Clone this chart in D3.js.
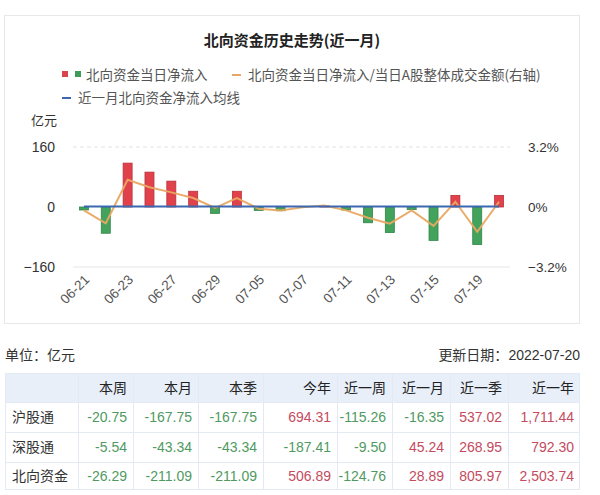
<!DOCTYPE html>
<html><head><meta charset="utf-8">
<script src="https://cdn.jsdelivr.net/npm/d3@7/dist/d3.min.js"></script>
<style>
html,body{margin:0;padding:0;background:#fff;}
svg{display:block;font-family:"Noto Sans CJK SC","Noto Sans",sans-serif;}
.num{font-family:"Liberation Sans","Noto Sans",sans-serif;}
</style></head>
<body>
<svg id="c" width="600" height="495"></svg>
<script>
const dates = ["06-21","06-22","06-23","06-24","06-27","06-28","06-29","06-30","07-05","07-06","07-07","07-08","07-11","07-12","07-13","07-14","07-15","07-18","07-19","07-20"];
const netInflow = [-8,-70,117,93,69,42,-17,42,-9,-10,-1,3,-8,-42,-68,-7,-89,31,-100,31];
const ratioPct = [-0.18,-0.87,1.45,1.05,0.78,0.48,-0.05,0.48,-0.09,-0.18,-0.02,0.08,-0.18,-0.57,-0.89,-0.18,-1.01,0.28,-1.32,0.28];
const monthAvg = 1.44;
const leftTicks = [-160,0,160];
const rightTicks = [-3.2,0,3.2];
const tableCols = ["本周","本月","本季","今年","近一周","近一月","近一季","近一年"];
const tableRows = ["沪股通","深股通","北向资金"];
const shValues = ["-20.75","-167.75","-167.75","694.31","-115.26","-16.35","537.02","1,711.44"];
const szValues = ["-5.54","-43.34","-43.34","-187.41","-9.50","45.24","268.95","792.30"];
const nbValues = ["-26.29","-211.09","-211.09","506.89","-124.76","28.89","805.97","2,503.74"];

const svg = d3.select("#c");
// chart frame
svg.append("rect").attr("x",4.5).attr("y",15.5).attr("width",575).attr("height",308)
  .attr("fill","#fff").attr("stroke","#e8e8e8");

svg.append("text").attr("x",292).attr("y",46).attr("text-anchor","middle")
  .attr("font-size",15).attr("font-weight","bold").attr("fill","#222")
  .text("北向资金历史走势(近一月)");

// legend
const lg = svg.append("g").attr("font-size",13.5).attr("fill","#555");
lg.append("rect").attr("x",62).attr("y",71).attr("width",6).attr("height",6).attr("fill","#d9434b");
lg.append("rect").attr("x",75).attr("y",71).attr("width",6).attr("height",6).attr("fill","#3f9c58");
lg.append("text").attr("x",86).attr("y",79.5).text("北向资金当日净流入");
lg.append("line").attr("x1",232).attr("x2",241).attr("y1",75).attr("y2",75).attr("stroke","#eaa865").attr("stroke-width",2);
lg.append("text").attr("x",248).attr("y",79.5).text("北向资金当日净流入/当日A股整体成交金额(右轴)");
lg.append("line").attr("x1",62).attr("x2",71).attr("y1",98).attr("y2",98).attr("stroke","#3b68b0").attr("stroke-width",2);
lg.append("text").attr("x",78).attr("y",102.5).text("近一月北向资金净流入均线");

// scales
const x = d3.scaleBand().domain(dates).range([73,510]);
const y = d3.scaleLinear().domain([-160,160]).range([267,147]);
const yr = d3.scaleLinear().domain([-3.2,3.2]).range([267,147]);
const cx = d => x(d) + x.bandwidth()/2;

// grid
svg.append("line").attr("x1",73).attr("x2",510).attr("y1",y(160)).attr("y2",y(160))
  .attr("stroke","#e3e3e3").attr("stroke-dasharray","4,3");
svg.append("line").attr("x1",73).attr("x2",510).attr("y1",y(-160)).attr("y2",y(-160))
  .attr("stroke","#e6e6e6");

// axes
svg.append("text").attr("x",44).attr("y",125).attr("text-anchor","middle").attr("font-size",13).attr("fill","#333").text("亿元");
const ax = svg.append("g").attr("transform","translate(73,0)")
  .call(d3.axisLeft(y).tickValues(leftTicks).tickSize(0).tickPadding(18).tickFormat(d3.format("d")));
ax.select(".domain").remove();
ax.selectAll("text").attr("font-size",14).attr("fill","#333").attr("class","num");
const axr = svg.append("g").attr("transform","translate(510,0)")
  .call(d3.axisRight(yr).tickValues(rightTicks).tickSize(0).tickPadding(18).tickFormat(d => (d===0?"0":d3.format(".1f")(d))+"%"));
axr.select(".domain").remove();
axr.selectAll("text").attr("font-size",13.5).attr("fill","#333").attr("class","num");

const axb = svg.append("g").attr("transform","translate(0,272)")
  .call(d3.axisBottom(x).tickValues(dates.filter((d,i)=>i%2===0)).tickSize(0).tickPadding(0));
axb.select(".domain").remove();
axb.selectAll("text").attr("font-size",13.5).attr("fill","#555").attr("class","num")
  .attr("text-anchor","end").attr("dy","0.35em")
  .attr("transform","translate(3,5) rotate(-45)");

// bars
const bw = 9;
svg.append("g").selectAll("rect").data(netInflow).join("rect")
  .attr("x",(d,i)=>cx(dates[i])-bw/2).attr("width",bw)
  .attr("y",d=>y(Math.max(0,d))).attr("height",d=>Math.abs(y(d)-y(0)))
  .attr("fill",d=>d>=0?"#e0414a":"#43a35c")
  .attr("stroke",d=>d>=0?"#b8323a":"#2f8447").attr("stroke-width",0.8);

// ratio line
svg.append("path").datum(ratioPct)
  .attr("d",d3.line().x((d,i)=>cx(dates[i])).y(d=>yr(d)))
  .attr("fill","none").attr("stroke","#e9a862").attr("stroke-width",2).attr("stroke-opacity",0.95);

// average line
svg.append("path").datum(dates)
  .attr("d",d3.line().x(d=>cx(d)).y(()=>y(monthAvg)))
  .attr("fill","none").attr("stroke","#3b68b0").attr("stroke-width",2);

// table
svg.append("text").attr("x",5).attr("y",360).attr("font-size",14).attr("fill","#333").text("单位：亿元");
svg.append("text").attr("x",580).attr("y",360).attr("text-anchor","end").attr("font-size",14).attr("fill","#333")
  .html('更新日期：<tspan class="num">2022-07-20</tspan>');

const colEdges = [5,78,133,198,263,337,392,450,508,580];
const rowEdges = [373,402,432,462,490];
const allValues = [shValues,szValues,nbValues];
const tb = svg.append("g");
tb.append("rect").attr("x",colEdges[0]).attr("y",rowEdges[0]).attr("width",colEdges[9]-colEdges[0]).attr("height",rowEdges[1]-rowEdges[0]).attr("fill","#e8eff9");
tb.append("rect").attr("x",colEdges[0]+0.5).attr("y",rowEdges[0]+0.5).attr("width",colEdges[9]-colEdges[0]-1).attr("height",rowEdges[4]-rowEdges[0]-1).attr("fill","none").attr("stroke","#e3eaf4");
tb.selectAll("line.v").data(colEdges.slice(1,-1)).join("line").attr("class","v")
  .attr("x1",d=>d+0.5).attr("x2",d=>d+0.5).attr("y1",rowEdges[0]).attr("y2",rowEdges[4]).attr("stroke","#e3eaf4");
tb.selectAll("line.h").data(rowEdges.slice(1,-1)).join("line").attr("class","h")
  .attr("x1",colEdges[0]).attr("x2",colEdges[9]).attr("y1",d=>d+0.5).attr("y2",d=>d+0.5).attr("stroke","#e3eaf4");
tb.selectAll("text.hd").data(tableCols).join("text").attr("class","hd")
  .attr("x",(d,i)=>colEdges[i+2]-6).attr("y",(rowEdges[0]+rowEdges[1])/2+5)
  .attr("text-anchor","end").attr("font-size",14).attr("fill","#222").text(d=>d);
tableRows.forEach((r,ri)=>{
  const yc = (rowEdges[ri+1]+rowEdges[ri+2])/2+5;
  tb.append("text").attr("x",12).attr("y",yc).attr("font-size",14).attr("fill","#333").text(r);
  tb.selectAll("text.r"+ri).data(allValues[ri]).join("text").attr("class","num r"+ri)
    .attr("x",(d,i)=>colEdges[i+2]-6).attr("y",yc).attr("text-anchor","end").attr("font-size",14)
    .attr("fill",d=>d.startsWith("-")?"#4f9a62":"#c44b60").text(d=>d);
});
</script>
</body></html>
